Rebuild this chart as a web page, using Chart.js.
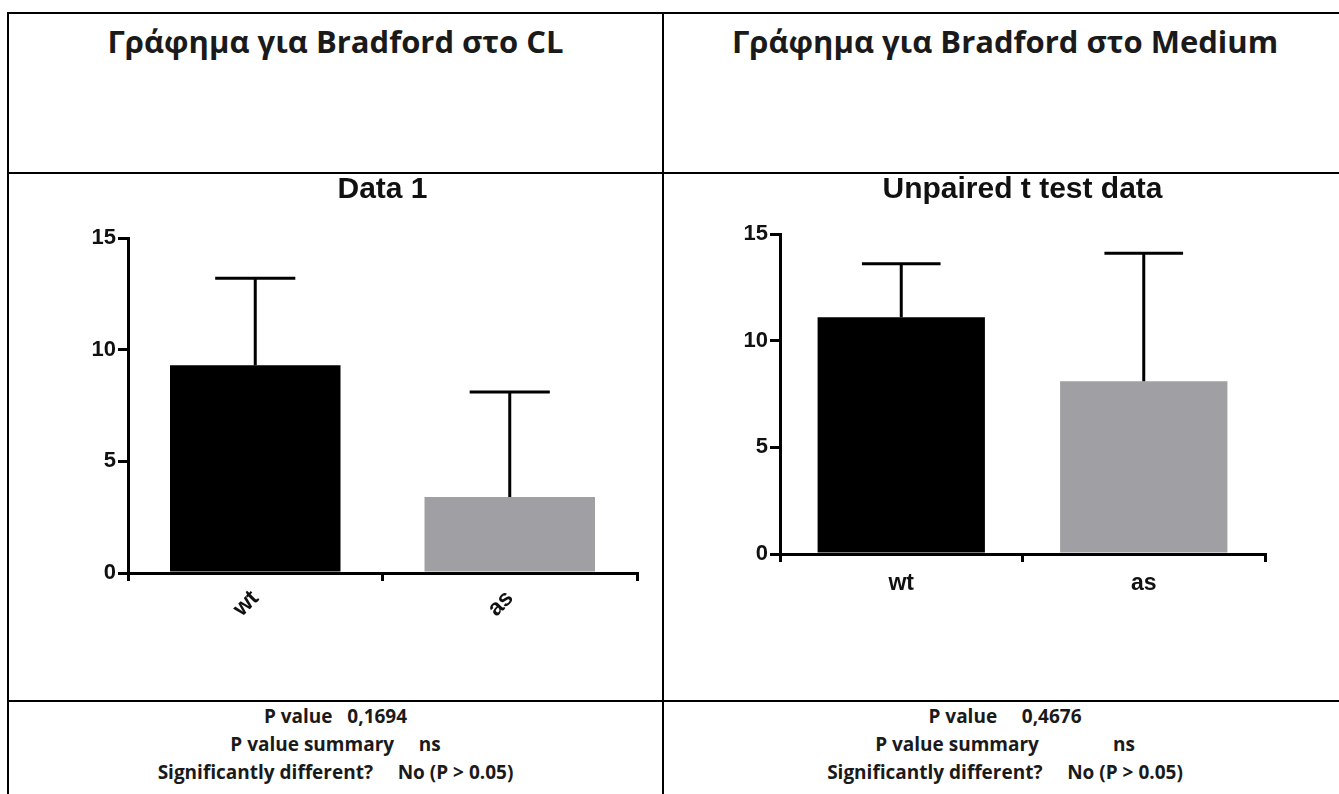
<!DOCTYPE html>
<html>
<head>
<meta charset="utf-8">
<script src="https://cdn.jsdelivr.net/npm/chart.js@4/dist/chart.umd.min.js"></script>
<style>
    body { margin: 0; background: #fff; width: 1339px; height: 794px; overflow: hidden; position: relative; }
    .line { position: absolute; background: #000; }
    .head { position: absolute; font-family: "Open Sans", sans-serif; font-weight: bold; font-size: 31px; color: #1a1a1a; text-align: center; }
    .stats { position: absolute; font-family: "Open Sans", sans-serif; font-weight: bold; font-size: 19px; color: #1a1a1a; text-align: center; line-height: 28px; white-space: pre; }
    canvas { position: absolute; }
</style>
</head>
<body>

<div class="line" style="left:7px; top:12px; width:1332px; height:2px;"></div>
<div class="line" style="left:7px; top:12px; width:2px; height:782px;"></div>
<div class="line" style="left:662px; top:12px; width:2px; height:782px;"></div>
<div class="line" style="left:7px; top:172px; width:1332px; height:2px;"></div>
<div class="line" style="left:7px; top:700px; width:1332px; height:2px;"></div>

<div class="head" style="left:9px; width:653px; top:20px;">Γράφημα για Bradford στο CL</div>
<div class="head" style="left:664px; width:682px; top:20px;">Γράφημα για Bradford στο Medium</div>

<div class="stats" style="left:9px; width:653px; top:702px;">P value   0,1694
P value summary     ns
Significantly different?     No (P &gt; 0.05)</div>
<div class="stats" style="left:664px; width:682px; top:702px;">P value     0,4676
P value summary               ns
Significantly different?     No (P &gt; 0.05)</div>

<canvas id="clChart" style="left:40px; top:170px;" width="620" height="520"></canvas>
<canvas id="mediumChart" style="left:690px; top:170px;" width="620" height="520"></canvas>

<script>
const categories = ["wt", "as"];
const yTicks = [0, 5, 10, 15];

// Bradford in CL
const clMeans = [9.3, 3.4];
const clErrors = [3.9, 4.7];

// Bradford in Medium
const mediumMeans = [11.1, 8.1];
const mediumErrors = [2.5, 6.0];

const barColors = ["#000000", "#a0a0a4"];

// draws the upper error bar of every bar, with a cap
const errorBars = {
    id: "errorBars",
    afterDatasetsDraw(chart, args, opts) {
        const ctx = chart.ctx;
        const y = chart.scales.y;
        const meta = chart.getDatasetMeta(0);
        const errs = opts.errors;
        ctx.save();
        ctx.strokeStyle = "#000";
        ctx.lineWidth = 3;
        meta.data.forEach((bar, i) => {
            const value = chart.data.datasets[0].data[i];
            const top = y.getPixelForValue(value + errs[i]);
            const half = bar.width * 0.235;
            ctx.beginPath();
            ctx.moveTo(bar.x, bar.y);
            ctx.lineTo(bar.x, top);
            ctx.moveTo(bar.x - half, top);
            ctx.lineTo(bar.x + half, top);
            ctx.stroke();
        });
        ctx.restore();
    }
};

function createChart(id, title, means, errors, setup) {

    new Chart(document.getElementById(id), {

        type: "bar",

        data: {
            labels: categories,
            datasets: [{
                data: means,
                backgroundColor: barColors,
                categoryPercentage: 1,
                barPercentage: setup.barPct
            }]
        },

        plugins: [errorBars],

        options: {
            responsive: false,
            animation: false,
            layout: {
                padding: { left: 0, right: setup.right, top: 0, bottom: 0 }
            },
            plugins: {
                legend: { display: false },
                tooltip: { enabled: false },
                title: {
                    display: true,
                    fullSize: false,
                    text: title,
                    color: "#111",
                    font: { family: "Liberation Sans, Arial", size: 30, weight: "bold" },
                    padding: { top: 2, bottom: setup.titleGap }
                },
                errorBars: { errors: errors }
            },
            scales: {
                x: {
                    grid: {
                        display: true,
                        drawOnChartArea: false,
                        color: "#000",
                        lineWidth: 3,
                        tickLength: 8
                    },
                    border: { color: "#000", width: 3 },
                    ticks: {
                        color: "#111",
                        font: { family: "Liberation Sans, Arial", size: 23, weight: "bold" },
                        maxRotation: setup.rotate,
                        minRotation: setup.rotate,
                        padding: setup.xPad
                    },
                    afterFit(scale) { scale.height = setup.xHeight; }
                },
                y: {
                    min: 0,
                    max: 15,
                    afterBuildTicks(scale) {
                        scale.ticks = yTicks.map(v => ({ value: v }));
                    },
                    grid: {
                        display: true,
                        drawOnChartArea: false,
                        color: "#000",
                        lineWidth: 3,
                        tickLength: 10
                    },
                    border: { color: "#000", width: 3 },
                    ticks: {
                        color: "#111",
                        font: { family: "Liberation Sans, Arial", size: 22, weight: "bold" },
                        padding: 2
                    },
                    afterFit(scale) { scale.width = setup.yWidth; }
                }
            }
        }

    });

}

createChart("clChart", "Data 1", clMeans, clErrors, {
    barPct: 0.67, right: 23, titleGap: 30, xHeight: 117, yWidth: 88, rotate: 45, xPad: 4
});

createChart("mediumChart", "Unpaired t test data", mediumMeans, mediumErrors, {
    barPct: 0.69, right: 45, titleGap: 26, xHeight: 136, yWidth: 90, rotate: 0, xPad: 8
});
</script>
</body>
</html>
